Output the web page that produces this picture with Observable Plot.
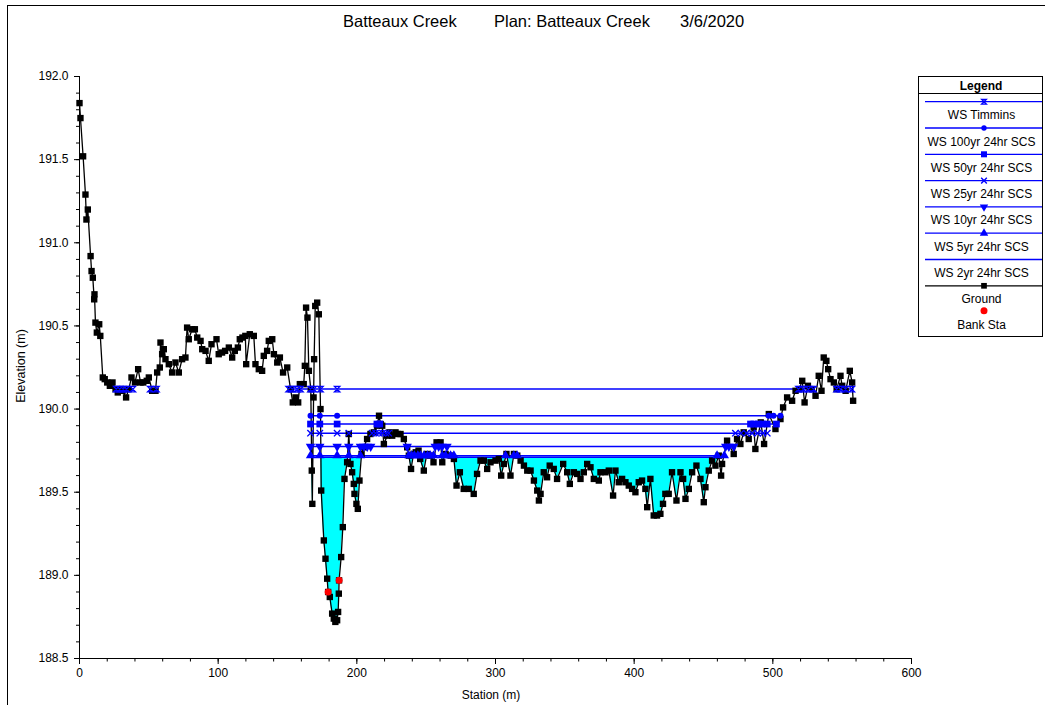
<!DOCTYPE html>
<html><head><meta charset="utf-8">
<script src="https://cdn.jsdelivr.net/npm/d3@7"></script>
<script src="https://cdn.jsdelivr.net/npm/@observablehq/plot@0.6"></script>
<style>
body{margin:0;background:#fff;font-family:"Liberation Sans",Arial,sans-serif;}
#wrap{position:relative;width:1045px;height:705px;overflow:hidden;background:#fff;}
#wrap > svg{position:absolute;left:0;top:0;}
#border{position:absolute;left:7px;top:5px;width:1200px;height:900px;border-left:1px solid #000;border-top:1px solid #000;}
#legend{position:absolute;left:918px;top:76px;}
</style></head>
<body><div id="wrap"><div id="border"></div></div>
<script>
// ---------------- data ----------------
const groundSta = [0,0.7,2.6,4.3,5.0,6.0,8.0,8.7,9.6,10.6,10.8,11.5,12.5,14.2,15.0,16.8,18.2,20.0,21.9,23.8,26.0,27.6,29.5,31.0,33.6,35.5,37.5,40.0,42.3,44.0,46.0,48.5,50.0,52.4,54.8,56.0,57.9,58.4,59.6,60.8,62.0,64.4,66.8,69.2,71.6,74.0,76.4,77.6,78.8,81.2,83.2,84.9,87.3,88.5,90.9,93.2,95.2,98.8,100.4,102.8,105.0,107.7,110.1,112.0,114.2,115.6,117.5,119.6,120.2,122.8,125.7,126.9,129.3,131.7,132.9,135.3,136.5,139.0,140.2,142.6,144.5,146.8,149.8,152.2,153.8,155.8,157.7,158.9,161.7,162.5,163.4,164.4,165.4,166.8,167.5,167.9,168.8,169.2,170.0,171.4,172.6,173.8,174.3,176.2,177.4,178.6,179.3,180.5,182.2,183.4,184.5,185.8,186.5,187.0,187.2,188.7,189.9,191.1,193.0,194.2,195.4,196.6,197.8,198.3,199.7,200.7,201.9,203.4,205.0,207.4,209.8,212.2,214.6,216.0,217.2,218.3,219.5,221.9,223.5,225.5,227.9,229.5,231.5,233.9,236.3,237.5,239.1,240.9,242.5,244.5,245.7,248.3,250.5,252.9,255.3,257.5,260.4,261.6,264.0,267.6,270.0,271.9,274.3,277.1,280.7,284.3,286.7,289.2,291.6,294.0,296.4,300.0,302.4,304.1,306.0,307.9,310.8,313.3,315.7,318.1,320.5,322.9,325.3,327.7,330.1,331.3,332.5,334.8,337.2,339.1,342.0,344.4,348.8,351.7,353.6,356.5,358.9,361.3,363.7,366.1,368.5,370.9,374.5,375.7,379.3,381.7,384.8,386.5,388.9,391.3,393.7,396.1,398.5,400.9,403.3,405.7,408.1,409.4,411.7,414.1,416.5,418.9,420.8,422.5,424.9,427.3,430.5,433.4,435.3,437.0,439.4,441.8,444.9,447.8,450.2,451.4,453.8,456.2,458.6,461.0,462.7,463.4,467.0,471.8,474.2,476.6,479.0,482.6,486.2,487.4,491.3,493.7,497.1,501.9,505.5,507.4,510.3,513.9,516.4,519.0,521.2,522.9,525.3,528.0,530.8,533.1,535.1,536.7,538.6,539.9,541.6,544.0,546.0,548.8,550.0,552.5,555.5,557.2,557.9];
const groundElev = [191.84,191.75,191.52,191.29,191.14,191.20,190.92,190.83,190.79,190.66,190.69,190.52,190.46,190.51,190.44,190.19,190.18,190.16,190.14,190.16,190.12,190.10,190.12,190.11,190.07,190.12,190.19,190.16,190.24,190.16,190.16,190.17,190.19,190.11,190.11,190.22,190.25,190.40,190.33,190.36,190.30,190.27,190.22,190.28,190.22,190.30,190.31,190.49,190.42,190.48,190.48,190.43,190.41,190.36,190.35,190.29,190.39,190.42,190.33,190.34,190.35,190.37,190.31,190.35,190.37,190.42,190.43,190.44,190.27,190.45,190.44,190.27,190.24,190.23,190.32,190.35,190.41,190.42,190.33,190.28,190.31,190.22,190.25,190.12,190.04,190.07,190.04,190.15,190.15,190.26,190.61,190.55,190.23,190.12,189.63,189.43,190.07,190.30,190.62,190.64,190.57,190.00,189.51,189.21,189.10,188.98,188.90,188.87,188.77,188.74,188.72,188.73,188.78,188.89,188.97,189.11,189.29,189.58,189.68,189.85,189.67,189.62,189.55,189.49,189.43,189.40,189.57,189.73,189.77,189.82,189.85,189.86,189.90,189.96,189.91,189.90,189.79,189.84,189.86,189.84,189.86,189.85,189.85,189.82,189.77,189.72,189.64,189.73,189.74,189.75,189.70,189.63,189.73,189.72,189.68,189.80,189.80,189.68,189.73,189.72,189.70,189.54,189.62,189.52,189.52,189.49,189.61,189.69,189.69,189.64,189.68,189.69,189.70,189.60,189.67,189.73,189.60,189.73,189.72,189.69,189.66,189.63,189.63,189.57,189.51,189.45,189.49,189.62,189.59,189.66,189.64,189.58,189.67,189.62,189.55,189.62,189.61,189.58,189.62,189.67,189.65,189.58,189.57,189.62,189.62,189.63,189.48,189.63,189.56,189.58,189.56,189.54,189.52,189.50,189.56,189.57,189.52,189.41,189.58,189.36,189.36,189.37,189.43,189.49,189.49,189.62,189.45,189.62,189.58,189.46,189.52,189.62,189.66,189.58,189.44,189.53,189.63,189.69,189.66,189.72,189.60,189.67,189.81,189.73,189.82,189.79,189.86,189.82,189.89,189.76,189.92,189.79,189.97,189.88,189.94,190.01,190.07,190.05,190.11,190.12,190.17,190.04,190.14,190.12,190.08,190.20,190.11,190.31,190.29,190.24,190.18,190.16,190.12,190.20,190.14,190.11,190.23,190.16,190.05];

const bankSta = [179.3, 187.2];
const bankElev = [188.90, 188.97];

const wsNames = ["WS Timmins","WS 100yr 24hr SCS","WS 50yr 24hr SCS","WS 25yr 24hr SCS","WS 10yr 24hr SCS","WS 5yr 24hr SCS","WS 2yr 24hr SCS"];
const wsElev = [190.12, 189.96, 189.91, 189.855, 189.775, 189.72, 189.71];
const wsExtents = [
  [[26,39],[50.5,56.5],[150.5,529.5],[545,558]],
  [[166.6,505.5]],
  [[166.6,502.6]],
  [[166.6,496]],
  [[166.6,472]],
  [[166.6,465]],
  [[166.6,462]]
];
const wsMarkers = [
  [26.5,29,31.5,34,38.5,51,55.5,150.8,153.4,157,159.4,166.6,168.9,173.8,185.8,518.5,522,525.7,529.3,546,548.8,552.4,557],
  [166.6,173.3,185.8,497,500.5,505.5],
  [166.6,173.3,185.8,214.5,216.5,483.9,486.3,489.6,492.3,496,502.6],
  [166.6,173.3,185.8,194.2,211,213.5,216,218.5,221,223,473,477,481,485,489,493,496],
  [166.6,173.3,185.8,194.2,202.6,205,207.5,210,236.3,256.5,259,261.5,265,466,468.3,471.8],
  [166.6,173.3,185.8,194.2,202.6,237.5,239.5,241.5,244,246,248.5,251,253,255.3,261.6,264,267.6,270,307.2,313.2,315.6,459.8,465],
  []
];

const xTicks = [0,100,200,300,400,500,600];
const yTicks = [188.5,189.0,189.5,190.0,190.5,191.0,191.5,192.0];

// ---------------- symbols ----------------
const hourglass = {draw(ctx, size){const s=Math.sqrt(size/Math.PI)*0.95; ctx.moveTo(-s,-s); ctx.lineTo(s,-s); ctx.lineTo(-s,s); ctx.lineTo(s,s); ctx.closePath();}};
const triDown = {draw(ctx, size){const y=-Math.sqrt(size/(Math.sqrt(3)*3)); ctx.moveTo(0,-2*y); ctx.lineTo(-Math.sqrt(3)*y,y); ctx.lineTo(Math.sqrt(3)*y,y); ctx.closePath();}};
const wsSym = [
  {symbol: hourglass, r: 2.8, fill: "none", stroke: "#0000ff", sw: 1.3},
  {symbol: d3.symbolCircle, r: 3.0, fill: "#0000ff", stroke: "none", sw: 0},
  {symbol: d3.symbolSquare, r: 3.8, fill: "#0000ff", stroke: "none", sw: 0},
  {symbol: d3.symbolTimes, r: 3.0, fill: "none", stroke: "#0000ff", sw: 1.4},
  {symbol: triDown, r: 3.5, fill: "#0000ff", stroke: "none", sw: 0},
  {symbol: d3.symbolTriangle, r: 3.5, fill: "#0000ff", stroke: "none", sw: 0},
  null
];

// ---------------- derived tables ----------------
const ground = groundSta.map((s,i)=>({station:s, elev:groundElev[i]}));
const bank = bankSta.map((s,i)=>({station:s, elev:bankElev[i]}));

const ws2 = wsElev[6];
const [f0, f1] = wsExtents[6][0];
const fillPts = [];
for (let i=0;i<ground.length;i++){
  const a = ground[i];
  if (i>0){
    const b = ground[i-1];
    if ((b.elev-ws2)*(a.elev-ws2) < 0){
      const t = (ws2-b.elev)/(a.elev-b.elev);
      fillPts.push({station: b.station + t*(a.station-b.station), elev: ws2});
    }
  }
  fillPts.push(a);
}
const fillData = fillPts.filter(d=>d.station>=f0 && d.station<=f1)
  .map(d=>({station:d.station, lo:d.elev, hi:Math.max(d.elev, ws2)}));

const wsLines = [];
wsExtents.forEach((segs,p)=>segs.forEach((seg,k)=>{
  wsLines.push({station:seg[0], elev:wsElev[p], seg:p+"-"+k});
  wsLines.push({station:seg[1], elev:wsElev[p], seg:p+"-"+k});
}));

const markerMarks = [];
wsMarkers.forEach((list,p)=>{
  const s = wsSym[p];
  if (!s || !list.length) return;
  markerMarks.push(Plot.dot(list.map(st=>({station:st, elev:wsElev[p]})), {
    x:"station", y:"elev", symbol: s.symbol, r: s.r, fill: s.fill, stroke: s.stroke, strokeWidth: s.sw
  }));
});

const xMinor = d3.range(0, 601, 20);
const yMinor = d3.range(0, 36).map(i => +(188.5 + i*0.1).toFixed(1));

// ---------------- plot ----------------
const chart = Plot.plot({
  width: 1045, height: 705,
  marginLeft: 79, marginRight: 134, marginTop: 76, marginBottom: 47,
  x: {domain: [0, 600]},
  y: {domain: [188.5, 192]},
  style: {fontFamily: "'Liberation Sans', Arial, sans-serif", fontSize: "12px", color: "#000", background: "transparent"},
  marks: [
    Plot.areaY(fillData, {x:"station", y1:"lo", y2:"hi", fill:"#00ffff", curve:"linear"}),
    Plot.line(wsLines, {x:"station", y:"elev", z:"seg", stroke:"#0000ff", strokeWidth:1.5}),
    Plot.line(ground, {x:"station", y:"elev", stroke:"#000", strokeWidth:1.3}),
    Plot.dot(ground, {x:"station", y:"elev", symbol:"square", r:3.6, fill:"#000"}),
    ...markerMarks,
    Plot.dot(bank, {x:"station", y:"elev", r:3.5, fill:"#ff0000"}),
    Plot.ruleX([0], {stroke:"#000"}),
    Plot.ruleY([188.5], {stroke:"#000"}),
    Plot.axisX({ticks: xTicks, tickSize: 6, tickPadding: 4, label: null, tickFormat: d => String(d)}),
    Plot.axisX({ticks: xMinor, tickSize: 3.5, label: null, tickFormat: () => ""}),
    Plot.axisY({ticks: yTicks, tickSize: 5, tickPadding: 6, label: null, tickFormat: d => d.toFixed(1)}),
    Plot.axisY({ticks: yMinor, tickSize: 3, label: null, tickFormat: () => ""})
  ]
});
document.getElementById("wrap").appendChild(chart);

// ---------------- overlay texts ----------------
const ov = d3.select("#wrap").append("svg").attr("width",1045).attr("height",705)
  .style("pointer-events","none").attr("font-family","'Liberation Sans', Arial, sans-serif");
const titleParts = [["Batteaux Creek",343],["Plan: Batteaux Creek",494],["3/6/2020",680]];
titleParts.forEach(([t,x])=>ov.append("text").attr("x",x).attr("y",26.5).attr("font-size",16.5).text(t));
ov.append("text").attr("transform","translate(24.5,366) rotate(-90)").attr("text-anchor","middle").attr("font-size",12.5).text("Elevation (m)");
ov.append("text").attr("x",491).attr("y",699).attr("text-anchor","middle").attr("font-size",12).text("Station (m)");

// ---------------- legend ----------------
const lg = d3.select("#wrap").append("div").attr("id","legend").append("svg")
  .attr("width",126).attr("height",262).attr("font-family","'Liberation Sans', Arial, sans-serif");
lg.append("rect").attr("x",0.5).attr("y",0.5).attr("width",124).attr("height",260).attr("fill","#fff").attr("stroke","#000");
lg.append("text").attr("x",63).attr("y",13.5).attr("text-anchor","middle").attr("font-size",12).attr("font-weight","bold").text("Legend");
lg.append("line").attr("x1",0).attr("x2",125).attr("y1",17.5).attr("y2",17.5).attr("stroke","#000");
const legRows = wsNames.map((n,i)=>({name:n, color:"#0000ff", sym:wsSym[i]}))
  .concat([{name:"Ground", color:"#000", sym:{symbol:d3.symbolSquare, r:3.6, fill:"#000", stroke:"none", sw:0}}]);
legRows.forEach((row,i)=>{
  const ly = 25.7 + 26.3*i;
  lg.append("line").attr("x1",7).attr("x2",124).attr("y1",ly).attr("y2",ly).attr("stroke",row.color).attr("stroke-width",1.3);
  if (row.sym){
    lg.append("path").attr("transform",`translate(66,${ly})`)
      .attr("d", d3.symbol(row.sym.symbol, Math.PI*row.sym.r*row.sym.r*0.8)())
      .attr("fill",row.sym.fill).attr("stroke",row.sym.stroke).attr("stroke-width",row.sym.sw);
  }
  lg.append("text").attr("x",63.5).attr("y",ly+17.5).attr("text-anchor","middle").attr("font-size",12).text(row.name);
});
lg.append("circle").attr("cx",66).attr("cy",234.7).attr("r",3.5).attr("fill","#ff0000");
lg.append("text").attr("x",63.5).attr("y",253).attr("text-anchor","middle").attr("font-size",12).text("Bank Sta");
</script>
</body></html>
